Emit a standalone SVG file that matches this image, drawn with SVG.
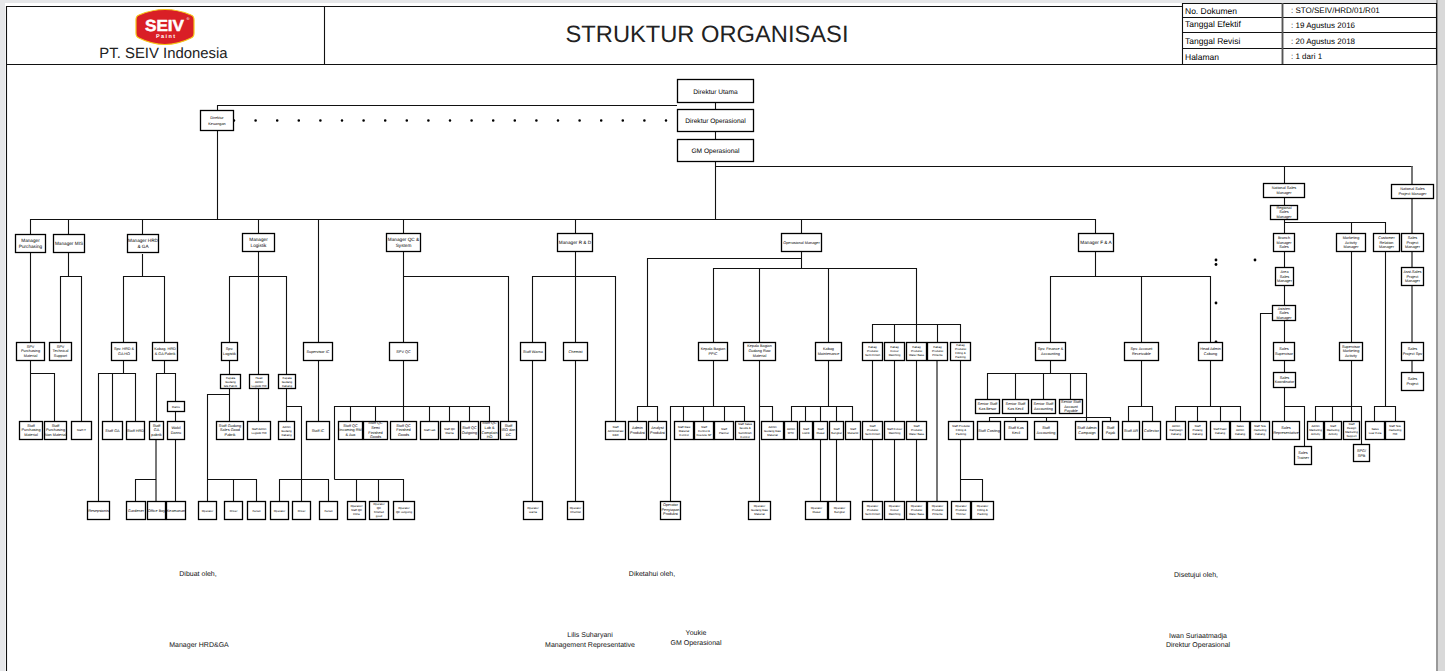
<svg xmlns="http://www.w3.org/2000/svg" width="1445" height="671" viewBox="0 0 1445 671">
<style>
text{font-family:"Liberation Sans",Arial,sans-serif;fill:#000;text-anchor:middle;text-rendering:geometricPrecision}
.n rect{fill:#fff;stroke:#000;stroke-width:1.300}
.f3{font-size:2.9px}.f4{font-size:3.8px}.f5{font-size:4.7px}.f7{font-size:6.6px}
.l{font-size:8px;text-anchor:start}
.k{font-size:8.500px;text-anchor:start}
.c path{fill:none;stroke:#111;stroke-width:1.100}
.c path.g{stroke:#555;stroke-width:1.600}
.h{fill:none;stroke:#111;stroke-width:1.100}
.s{font-size:7px;fill:#111}
</style>
<rect width="1445" height="671" fill="#e6e7e9"/>
<rect x="5" y="3" width="1433" height="668" fill="#fff"/>
<rect x="1436" y="0" width="2" height="671" fill="#999"/>
<rect x="1438" y="0" width="7" height="671" fill="#d9d9d9"/>
<g id="header">
<path class="h" d="M6.5 671V6.5H1182M1182 3.500H1436.500V64.500H6.500M324.500 6V64M1182.500 3V64M1282.500 3V64M1182 17.500H1436M1182 32.500H1436M1182 48.500H1436"/>
<path d="M1282.500 3V64" fill="none" stroke="#555" stroke-width="1.800"/>
<g id="logo">
<path d="M139 15Q165 4 191 15Q194 16 194 20V33Q194 37 191 38Q165 51 139 38Q136 37 136 33V20Q136 16 139 15Z" fill="#d91f26" stroke="#f5c518" stroke-width="1.200"/>
<text x="164.500" y="30.500" font-size="16" font-weight="700" fill="#fff" stroke="#fff" stroke-width=".5" textLength="39" lengthAdjust="spacingAndGlyphs" style="fill:#fff">SEIV</text>
<text x="165.500" y="38" font-size="5.500" font-weight="700" textLength="19" style="fill:#fff">Paint</text>
<text x="188" y="20" font-size="4" style="fill:#fff">®</text>
</g>
<text x="163.500" y="58" font-size="14.900" style="fill:#222">PT. SEIV Indonesia</text>
<text x="707" y="41.500" font-size="23.700" style="fill:#222">STRUKTUR ORGANISASI</text>
<text class="k" x="1185" y="13.500">No. Dokumen</text>
<text class="k" x="1185" y="27">Tanggal Efektif</text>
<text class="k" x="1185" y="44">Tanggal Revisi</text>
<text class="k" x="1185" y="59.500">Halaman</text>
<text class="l" x="1291" y="13">: STO/SEIV/HRD/01/R01</text>
<text class="l" x="1291" y="28">: 19 Agustus 2016</text>
<text class="l" x="1291" y="44">: 20 Agustus 2018</text>
<text class="l" x="1291" y="59">: 1 dari 1</text>
</g>
<g id="connectors" class="c">
<path d="M715.500 102V219.500"/>
<path d="M217.500 219.500V105.500H677"/>
<path d="M234 120.500H672" style="stroke:#000;stroke-width:2.600;stroke-linecap:round;stroke-dasharray:0 21.600"/>
<path d="M30.500 234V219.500H1095.500V234M68.500 219.500V234M142.500 219.500V234M258.500 219.500V234M318.500 219.500V342M403.500 219.500V234M575.500 219.500V234M801.500 219.500V233"/>
<path d="M715.500 166.500H1412.500M1284.500 166.500V183"/>
<path class="g" d="M1412 166V372"/>
<path d="M30.500 252V421M30.500 373.500H54.500V421"/>
<path d="M68.500 252V276.500M60.500 342V276.500H81.500V421"/>
<path d="M142.500 254V276.500M123.500 342V276.500H164.500V342"/>
<path d="M123.500 360V373.500M98.500 501V373.500H135.500V421M112.500 373.500V421"/>
<path d="M164.500 360V373.500M156.500 421V373.500H175.500V401M175.500 411V421M175.500 439V501"/>
<path class="g" d="M156 439V501"/>
<path d="M135.500 501V479.500H156"/>
<path d="M229.500 342V276.500H286.500V374M258.500 252V421"/>
<path d="M229.500 360V374M229.500 388V421M229.500 394.500H207.500V501M207.500 479.500H256.500V501M233.500 479.500V501"/>
<path d="M286.500 388V421M286.500 406.500H301.500V501M279.500 501V479.500H328.500V501"/>
<path d="M318.500 360V421"/>
<path d="M403.500 252V342M403.500 276.500H508.500V421"/>
<path d="M403.500 360V421M334.500 479.500V406.500H489.500V421M350.500 406.500V421M375.500 406.500V421M429.500 406.500V421M449.500 406.500V421M469.500 406.500V421"/>
<path d="M334.500 479.500H403.500V501M356.500 479.500V501M378.500 479.500V501"/>
<path d="M575.500 252V342M532.500 342V276.500H615.500V421M532.500 360V501M575.500 360V501"/>
<path d="M801.500 251V268.500M647.500 406V258.500H801.500M637.500 421V406.500H657.500V421"/>
<path d="M713.500 342V268.500H916.500V324M759.500 268.500V342M828.500 268.500V342"/>
<path d="M713.500 360V406.500M670.500 501V406.500H744.500V421M683.500 406.500V421M703.500 406.500V421M724.500 406.500V421"/>
<path d="M759.500 360V501M759.500 406.500H772.500V421"/>
<path d="M828.500 360V406.500M791.500 421V406.500H852.500V421M805.500 406.500V421M820.500 406.500V501M836.500 406.500V501"/>
<path d="M872.500 342V324.500H960.500V342M894.500 324.500V342M916.500 324.500V342M937.500 324.500V342"/>
<path d="M872.500 360V501M894.500 360V501M916.500 360V501M960.500 360V501M960.500 479.500H982.500V501"/>
<path class="g" d="M937 360V501"/>
<path d="M1095.500 252V276.500M1050.500 342V276.500H1210.500V342M1141.500 276.500V342"/>
<path d="M1050.500 360V373.500M987.500 399V373.500H1086.500V421M1015.500 373.500V399M1043.500 373.500V399M1070.500 373.500V399"/>
<path d="M989.500 421V417.500H1110.500V421M1015.500 417.500V421M1046.500 417.500V421"/>
<path d="M1141.500 360V406.500M1128.500 421V406.500H1152.500V421"/>
<path d="M1210.500 360V406.500M1175.500 421V406.500H1240.500V421M1197.500 406.500V421M1220.500 406.500V421"/>
<path d="M1284.500 197V233M1284.500 222.500H1385.500V233M1351.500 222.500V233"/>
<path d="M1284.500 251V342M1284.500 360V372M1284.500 387V421M1284.500 406.500H1304.500V446"/>
<path d="M1272 313.500H1260.500V421"/>
<path d="M1351.500 251V342M1351.500 360V406.500M1315.500 421V406.500H1361.500V444M1332.500 406.500V421M1351.500 406.500V421"/>
<path d="M1385.500 251V406.500M1374.500 421V406.500H1395.500V421"/>
<g id="dots"><circle cx="1216" cy="260" r="1.400"/><circle cx="1216" cy="264.500" r="1.400"/><circle cx="1255" cy="260" r="1.400"/><circle cx="1216" cy="303" r="1.400"/><circle cx="1216" cy="342" r="1.400"/></g>
</g>
<g class="n" id="n-direktur-utama"><rect x="677.500" y="79.500" width="76" height="23"/><text class="f7" x="715.500" y="93.500">Direktur Utama</text></g>
<g class="n" id="n-direktur-operasional"><rect x="677.500" y="109.500" width="76" height="22"/><text class="f7" x="715.500" y="122.500">Direktur Operasional</text></g>
<g class="n" id="n-gm-operasional"><rect x="677.500" y="139.500" width="76" height="22"/><text class="f7" x="715.500" y="152.500">GM Operasional</text></g>
<g class="n" id="n-direktur-keuangan"><rect x="200.500" y="110.500" width="33" height="20"/><text class="f4" x="217" y="119"><tspan x="217">Direktur</tspan><tspan x="217" dy="6">Keuangan</tspan></text></g>
<g class="n" id="n-mgr-purchasing"><rect x="15.500" y="234.500" width="30" height="18"/><text class="f5" x="30.500" y="241.600"><tspan x="30.500">Manager</tspan><tspan x="30.500" dy="6">Purchasing</tspan></text></g>
<g class="n" id="n-mgr-mis"><rect x="53.500" y="234.500" width="31" height="18"/><text class="f5" x="69" y="245">Manager MIS</text></g>
<g class="n" id="n-mgr-hrd"><rect x="127.500" y="234.500" width="31" height="18"/><text class="f5" x="143" y="241.600"><tspan x="143">Manager HRD</tspan><tspan x="143" dy="6">&amp; GA</tspan></text></g>
<g class="n" id="n-mgr-logistik"><rect x="242.500" y="233.500" width="32" height="18"/><text class="f5" x="258.500" y="240.600"><tspan x="258.500">Manager</tspan><tspan x="258.500" dy="6">Logistik</tspan></text></g>
<g class="n" id="n-mgr-qc"><rect x="386.500" y="233.500" width="34" height="18"/><text class="f5" x="403.500" y="240.600"><tspan x="403.500">Manager QC &amp;</tspan><tspan x="403.500" dy="6">System</tspan></text></g>
<g class="n" id="n-mgr-rd"><rect x="557.500" y="233.500" width="35" height="18"/><text class="f5" x="575" y="244">Manager R &amp; D</text></g>
<g class="n" id="n-op-mgr"><rect x="781.500" y="233.500" width="40" height="18"/><text class="f4" x="801.500" y="244">Operasional Manager</text></g>
<g class="n" id="n-mgr-fa"><rect x="1078.500" y="233.500" width="35" height="18"/><text class="f5" x="1096" y="244">Manager F &amp; A</text></g>
<g class="n" id="n-nat-sales"><rect x="1263.500" y="183.500" width="41" height="14"/><text class="f4" x="1284" y="189"><tspan x="1284">National Sales</tspan><tspan x="1284" dy="5">Manager</tspan></text></g>
<g class="n" id="n-nat-project"><rect x="1391.500" y="184.500" width="42" height="14"/><text class="f4" x="1412.500" y="190"><tspan x="1412.500">National Sales</tspan><tspan x="1412.500" dy="5">Project Manager</tspan></text></g>
<g class="n" id="n-regional"><rect x="1270.500" y="205.500" width="27" height="14"/><text class="f4" x="1284" y="209"><tspan x="1284">Regional</tspan><tspan x="1284" dy="4.400">Sales</tspan><tspan x="1284" dy="4.400">Manager</tspan></text></g>
<g class="n" id="n-branch"><rect x="1273.500" y="233.500" width="21" height="18"/><text class="f4" x="1284" y="238.700"><tspan x="1284">Branch</tspan><tspan x="1284" dy="4.800">Manager</tspan><tspan x="1284" dy="4.800">Sales</tspan></text></g>
<g class="n" id="n-mkt-mgr"><rect x="1336.500" y="233.500" width="29" height="18"/><text class="f4" x="1351" y="238.700"><tspan x="1351">Marketing</tspan><tspan x="1351" dy="4.800">Activity</tspan><tspan x="1351" dy="4.800">Manager</tspan></text></g>
<g class="n" id="n-cust-mgr"><rect x="1373.500" y="233.500" width="26" height="18"/><text class="f4" x="1386.500" y="238.700"><tspan x="1386.500">Customer</tspan><tspan x="1386.500" dy="4.800">Relation</tspan><tspan x="1386.500" dy="4.800">Manager</tspan></text></g>
<g class="n" id="n-sales-project-mgr"><rect x="1401.500" y="233.500" width="22" height="18"/><text class="f4" x="1412.500" y="238.700"><tspan x="1412.500">Sales</tspan><tspan x="1412.500" dy="4.800">Project</tspan><tspan x="1412.500" dy="4.800">Manager</tspan></text></g>
<g class="n" id="n-area"><rect x="1275.500" y="267.500" width="18" height="18"/><text class="f4" x="1284.500" y="272.700"><tspan x="1284.500">Area</tspan><tspan x="1284.500" dy="4.800">Sales</tspan><tspan x="1284.500" dy="4.800">Manager</tspan></text></g>
<g class="n" id="n-asd-project"><rect x="1401.500" y="267.500" width="22" height="18"/><text class="f4" x="1412.500" y="272.700"><tspan x="1412.500">Asst.Sales</tspan><tspan x="1412.500" dy="4.800">Project</tspan><tspan x="1412.500" dy="4.800">Manager</tspan></text></g>
<g class="n" id="n-asisten"><rect x="1272.500" y="305.500" width="23" height="15"/><text class="f4" x="1284" y="309.500"><tspan x="1284">Asisten</tspan><tspan x="1284" dy="4.800">Sales</tspan><tspan x="1284" dy="4.800">Manager</tspan></text></g>
<g class="n" id="n-spv-purch"><rect x="16.500" y="342.500" width="28" height="18"/><text class="f4" x="30.500" y="347.700"><tspan x="30.500">SPV</tspan><tspan x="30.500" dy="4.600">Purchasing</tspan><tspan x="30.500" dy="4.600">Material</tspan></text></g>
<g class="n" id="n-spv-tech"><rect x="49.500" y="342.500" width="22" height="18"/><text class="f4" x="60.500" y="347.700"><tspan x="60.500">SPV</tspan><tspan x="60.500" dy="4.600">Technical</tspan><tspan x="60.500" dy="4.600">Support</tspan></text></g>
<g class="n" id="n-spv-hrd"><rect x="111.500" y="342.500" width="25" height="18"/><text class="f4" x="124" y="350"><tspan x="124">Spv. HRD &amp;</tspan><tspan x="124" dy="4.600">GA HO</tspan></text></g>
<g class="n" id="n-kabag-hrd"><rect x="152.500" y="342.500" width="25" height="18"/><text class="f4" x="165" y="350"><tspan x="165">Kabag. HRD</tspan><tspan x="165" dy="4.600">&amp; GA Pabrik</tspan></text></g>
<g class="n" id="n-spv-log"><rect x="221.500" y="342.500" width="16" height="18"/><text class="f4" x="229.500" y="350"><tspan x="229.500">Spv.</tspan><tspan x="229.500" dy="4.600">Logistik</tspan></text></g>
<g class="n" id="n-kg-pabrik"><rect x="220.500" y="374.500" width="20" height="14"/><text class="f3" x="230.500" y="378.700"><tspan x="230.500">Kepala</tspan><tspan x="230.500" dy="4">Gudang</tspan><tspan x="230.500" dy="4">GG Pabrik</tspan></text></g>
<g class="n" id="n-head-admin-log"><rect x="249.500" y="374.500" width="19" height="14"/><text class="f3" x="259" y="378.700"><tspan x="259">Head</tspan><tspan x="259" dy="4">Admin</tspan><tspan x="259" dy="4">Logistik HO</tspan></text></g>
<g class="n" id="n-kg-cabang"><rect x="278.500" y="374.500" width="17" height="14"/><text class="f3" x="287" y="378.700"><tspan x="287">Kepala</tspan><tspan x="287" dy="4">Gudang</tspan><tspan x="287" dy="4">Cabang</tspan></text></g>
<g class="n" id="n-danru"><rect x="167.500" y="401.500" width="17" height="10"/><text class="f3" x="176" y="407.500">Danru</text></g>
<g class="n" id="n-sup-ic"><rect x="303.500" y="342.500" width="29" height="18"/><text class="f4" x="318" y="352.800">Supervisor IC</text></g>
<g class="n" id="n-spv-qc"><rect x="389.500" y="342.500" width="28" height="18"/><text class="f4" x="403.500" y="352.800">SPV QC</text></g>
<g class="n" id="n-staff-warna"><rect x="520.500" y="342.500" width="25" height="18"/><text class="f4" x="533" y="352.800">Staff Warna</text></g>
<g class="n" id="n-chemist"><rect x="563.500" y="342.500" width="24" height="18"/><text class="f4" x="575.500" y="352.800">Chemist</text></g>
<g class="n" id="n-ppic"><rect x="698.500" y="342.500" width="29" height="18"/><text class="f4" x="713" y="350"><tspan x="713">Kepala Bagian</tspan><tspan x="713" dy="4.600">PPIC</tspan></text></g>
<g class="n" id="n-kb-raw"><rect x="743.500" y="342.500" width="32" height="18"/><text class="f4" x="759.500" y="347"><tspan x="759.500">Kepala Bagian</tspan><tspan x="759.500" dy="5">Gudang Raw</tspan><tspan x="759.500" dy="5">Material</tspan></text></g>
<g class="n" id="n-kabag-maint"><rect x="815.500" y="342.500" width="26" height="18"/><text class="f4" x="828.500" y="350"><tspan x="828.500">Kabag</tspan><tspan x="828.500" dy="4.600">Maintenance</tspan></text></g>
<g class="n" id="n-kabag-semi"><rect x="862.500" y="342.500" width="20" height="18"/><text class="f3" x="872.500" y="348"><tspan x="872.500">Kabag</tspan><tspan x="872.500" dy="4">Produksi</tspan><tspan x="872.500" dy="4">Semi Finish</tspan></text></g>
<g class="n" id="n-kabag-colour"><rect x="884.500" y="342.500" width="20" height="18"/><text class="f3" x="894.500" y="348"><tspan x="894.500">Kabag</tspan><tspan x="894.500" dy="4">Colour</tspan><tspan x="894.500" dy="4">Matching</tspan></text></g>
<g class="n" id="n-kabag-water"><rect x="906.500" y="342.500" width="20" height="18"/><text class="f3" x="916.500" y="348"><tspan x="916.500">Kabag</tspan><tspan x="916.500" dy="4">Produksi</tspan><tspan x="916.500" dy="4">Water Base</tspan></text></g>
<g class="n" id="n-kabag-pin"><rect x="927.500" y="342.500" width="20" height="18"/><text class="f3" x="937.500" y="348"><tspan x="937.500">Kabag</tspan><tspan x="937.500" dy="4">Produksi</tspan><tspan x="937.500" dy="4">Pinlente</tspan></text></g>
<g class="n" id="n-kabag-fill"><rect x="950.500" y="342.500" width="20" height="18"/><text class="f3" x="960.500" y="346"><tspan x="960.500">Kabag</tspan><tspan x="960.500" dy="4">Produksi</tspan><tspan x="960.500" dy="4">Filling &amp;</tspan><tspan x="960.500" dy="4">Packing</tspan></text></g>
<g class="n" id="n-spv-fin"><rect x="1035.500" y="342.500" width="30" height="18"/><text class="f4" x="1050.500" y="350"><tspan x="1050.500">Spv. Finance &amp;</tspan><tspan x="1050.500" dy="4.600">Accounting</tspan></text></g>
<g class="n" id="n-spv-ar"><rect x="1124.500" y="342.500" width="34" height="18"/><text class="f4" x="1141.500" y="350"><tspan x="1141.500">Spv. Account</tspan><tspan x="1141.500" dy="4.600">Receivable</tspan></text></g>
<g class="n" id="n-head-admin"><rect x="1198.500" y="342.500" width="24" height="18"/><text class="f4" x="1210.500" y="350"><tspan x="1210.500">Head Admin</tspan><tspan x="1210.500" dy="4.600">Cabang</tspan></text></g>
<g class="n" id="n-sales-sup"><rect x="1273.500" y="342.500" width="21" height="18"/><text class="f4" x="1284" y="350"><tspan x="1284">Sales</tspan><tspan x="1284" dy="4.600">Supervisor</tspan></text></g>
<g class="n" id="n-sup-mkt"><rect x="1339.500" y="342.500" width="23" height="18"/><text class="f4" x="1351" y="347.700"><tspan x="1351">Supervisor</tspan><tspan x="1351" dy="4.600">Marketing</tspan><tspan x="1351" dy="4.600">Activity</tspan></text></g>
<g class="n" id="n-sales-proj-spv"><rect x="1401.500" y="342.500" width="22" height="18"/><text class="f4" x="1412.500" y="350"><tspan x="1412.500">Sales</tspan><tspan x="1412.500" dy="4.600">Project Spv</tspan></text></g>
<g class="n" id="n-sales-koord"><rect x="1273.500" y="372.500" width="22" height="15"/><text class="f4" x="1284.500" y="378.700"><tspan x="1284.500">Sales</tspan><tspan x="1284.500" dy="4.600">Koordinator</tspan></text></g>
<g class="n" id="n-sales-project"><rect x="1401.500" y="372.500" width="22" height="18"/><text class="f4" x="1412.500" y="380"><tspan x="1412.500">Sales</tspan><tspan x="1412.500" dy="4.600">Project</tspan></text></g>
<g class="n" id="n-sr-besar"><rect x="975.500" y="399.500" width="24" height="14"/><text class="f4" x="987.500" y="405"><tspan x="987.500">Senior Staff</tspan><tspan x="987.500" dy="4.600">Kas Besar</tspan></text></g>
<g class="n" id="n-sr-kecil"><rect x="1002.500" y="399.500" width="26" height="14"/><text class="f4" x="1015.500" y="405"><tspan x="1015.500">Senior Staff</tspan><tspan x="1015.500" dy="4.600">Kas Kecil</tspan></text></g>
<g class="n" id="n-sr-acc"><rect x="1031.500" y="399.500" width="24" height="14"/><text class="f4" x="1043.500" y="405"><tspan x="1043.500">Senior Staff</tspan><tspan x="1043.500" dy="4.600">Accounting</tspan></text></g>
<g class="n" id="n-sr-ap"><rect x="1059.500" y="399.500" width="23" height="14"/><text class="f4" x="1071" y="403"><tspan x="1071">Senior Staff</tspan><tspan x="1071" dy="4.600">Account</tspan><tspan x="1071" dy="4.600">Payable</tspan></text></g>
<g class="n" id="n-st-pm"><rect x="19.500" y="421.500" width="23" height="18"/><text class="f4" x="31" y="426.700"><tspan x="31">Staff</tspan><tspan x="31" dy="4.600">Purchasing</tspan><tspan x="31" dy="4.600">Material</tspan></text></g>
<g class="n" id="n-st-pnm"><rect x="44.500" y="421.500" width="22" height="18"/><text class="f4" x="55.500" y="426.700"><tspan x="55.500">Staff</tspan><tspan x="55.500" dy="4.600">Purchasing</tspan><tspan x="55.500" dy="4.600">Non Material</tspan></text></g>
<g class="n" id="n-st-it"><rect x="71.500" y="421.500" width="20" height="18"/><text class="f3" x="81.500" y="431">Staff IT</text></g>
<g class="n" id="n-st-ga"><rect x="102.500" y="421.500" width="20" height="18"/><text class="f4" x="112.500" y="431.800">Staff GA</text></g>
<g class="n" id="n-st-hrd"><rect x="126.500" y="421.500" width="18" height="18"/><text class="f4" x="135.500" y="431.800">Staff HRD</text></g>
<g class="n" id="n-st-gap"><rect x="149.500" y="421.500" width="14" height="18"/><text class="f4" x="156.500" y="426.700"><tspan x="156.500">Staff</tspan><tspan x="156.500" dy="4.600">GA</tspan><tspan x="156.500" dy="4.600">pabrik</tspan></text></g>
<g class="n" id="n-wakil"><rect x="167.500" y="421.500" width="17" height="18"/><text class="f4" x="176" y="429"><tspan x="176">Wakil</tspan><tspan x="176" dy="4.600">Danru</tspan></text></g>
<g class="n" id="n-st-gudang"><rect x="216.500" y="421.500" width="27" height="18"/><text class="f4" x="230" y="426.700"><tspan x="230">Staff Gudang</tspan><tspan x="230" dy="4.600">Sales Good</tspan><tspan x="230" dy="4.600">Pabrik</tspan></text></g>
<g class="n" id="n-st-admin-log"><rect x="247.500" y="421.500" width="23" height="18"/><text class="f3" x="259" y="429.500"><tspan x="259">Staff Admin</tspan><tspan x="259" dy="4">Logistik HO</tspan></text></g>
<g class="n" id="n-adm-cabang"><rect x="278.500" y="421.500" width="16" height="18"/><text class="f3" x="286.500" y="427.500"><tspan x="286.500">Admin</tspan><tspan x="286.500" dy="4">Gudang</tspan><tspan x="286.500" dy="4">Cabang</tspan></text></g>
<g class="n" id="n-st-ic"><rect x="306.500" y="421.500" width="23" height="18"/><text class="f4" x="318" y="431.800">Staff IC</text></g>
<g class="n" id="n-qc-inc"><rect x="338.500" y="421.500" width="24" height="18"/><text class="f4" x="350.500" y="426.700"><tspan x="350.500">Staff QC</tspan><tspan x="350.500" dy="4.600">Incoming RM</tspan><tspan x="350.500" dy="4.600">&amp; Aux</tspan></text></g>
<g class="n" id="n-qc-semi"><rect x="363.500" y="421.500" width="24" height="18"/><text class="f4" x="375.500" y="424.400"><tspan x="375.500">Staff QC</tspan><tspan x="375.500" dy="4.600">Semi</tspan><tspan x="375.500" dy="4.600">Finished</tspan><tspan x="375.500" dy="4.600">Goods</tspan></text></g>
<g class="n" id="n-qc-fin"><rect x="390.500" y="421.500" width="26" height="18"/><text class="f4" x="403.500" y="426.700"><tspan x="403.500">Staff QC</tspan><tspan x="403.500" dy="4.600">Finished</tspan><tspan x="403.500" dy="4.600">Goods</tspan></text></g>
<g class="n" id="n-st-lab"><rect x="420.500" y="421.500" width="18" height="18"/><text class="f3" x="429.500" y="431">Staff Lab</text></g>
<g class="n" id="n-qc-warna"><rect x="440.500" y="421.500" width="18" height="18"/><text class="f3" x="449.500" y="429.500"><tspan x="449.500">Staff QC</tspan><tspan x="449.500" dy="4">Warna</tspan></text></g>
<g class="n" id="n-qc-out"><rect x="460.500" y="421.500" width="18" height="18"/><text class="f4" x="469.500" y="429"><tspan x="469.500">Staff QC</tspan><tspan x="469.500" dy="4.600">Outgoing</tspan></text></g>
<g class="n" id="n-qc-lab"><rect x="480.500" y="421.500" width="18" height="18"/><text class="f4" x="489.500" y="424.400"><tspan x="489.500">Staff QC</tspan><tspan x="489.500" dy="4.600">Lab &amp;</tspan><tspan x="489.500" dy="4.600">Complain</tspan><tspan x="489.500" dy="4.600">HO</tspan></text></g>
<g class="n" id="n-iso"><rect x="500.500" y="421.500" width="16" height="18"/><text class="f4" x="508.500" y="426.700"><tspan x="508.500">Staff</tspan><tspan x="508.500" dy="4.600">ISO dan</tspan><tspan x="508.500" dy="4.600">DC</tspan></text></g>
<g class="n" id="n-st-adm-rd"><rect x="605.500" y="421.500" width="20" height="18"/><text class="f3" x="615.500" y="427.500"><tspan x="615.500">Staff</tspan><tspan x="615.500" dy="4">Administrasi</tspan><tspan x="615.500" dy="4">R&amp;D</tspan></text></g>
<g class="n" id="n-adm-prod"><rect x="628.500" y="421.500" width="18" height="18"/><text class="f4" x="637.500" y="429"><tspan x="637.500">Admin</tspan><tspan x="637.500" dy="4.600">Produksi</tspan></text></g>
<g class="n" id="n-analyst"><rect x="648.500" y="421.500" width="18" height="18"/><text class="f4" x="657.500" y="429"><tspan x="657.500">Analyst</tspan><tspan x="657.500" dy="4.600">Produksi</tspan></text></g>
<g class="n" id="n-st-raw"><rect x="674.500" y="421.500" width="19" height="18"/><text class="f3" x="684" y="427.500"><tspan x="684">Staff Raw</tspan><tspan x="684" dy="4">Material</tspan><tspan x="684" dy="4">Control</tspan></text></g>
<g class="n" id="n-st-control"><rect x="694.500" y="421.500" width="19" height="18"/><text class="f3" x="704" y="427.500"><tspan x="704">Staff</tspan><tspan x="704" dy="4">Control &amp;</tspan><tspan x="704" dy="4">Execute SP</tspan></text></g>
<g class="n" id="n-st-planner"><rect x="714.500" y="421.500" width="19" height="18"/><text class="f3" x="724" y="429.500"><tspan x="724">Staff</tspan><tspan x="724" dy="4">Planner</tspan></text></g>
<g class="n" id="n-st-sales"><rect x="735.500" y="421.500" width="19" height="18"/><text class="f3" x="745" y="425"><tspan x="745">Staff Sales</tspan><tspan x="745" dy="4.300">Goods &amp;</tspan><tspan x="745" dy="4.300">Semifinish</tspan><tspan x="745" dy="4.300">Control</tspan></text></g>
<g class="n" id="n-adm-raw"><rect x="761.500" y="421.500" width="22" height="18"/><text class="f3" x="772.500" y="427.500"><tspan x="772.500">Admin</tspan><tspan x="772.500" dy="4">Gudang Raw</tspan><tspan x="772.500" dy="4">Material</tspan></text></g>
<g class="n" id="n-adm-mtc"><rect x="784.500" y="421.500" width="13" height="18"/><text class="f3" x="791" y="429.500"><tspan x="791">Admin</tspan><tspan x="791" dy="4">MTC</tspan></text></g>
<g class="n" id="n-st-listrik"><rect x="799.500" y="421.500" width="13" height="18"/><text class="f3" x="806" y="429.500"><tspan x="806">Staff</tspan><tspan x="806" dy="4">Listrik</tspan></text></g>
<g class="n" id="n-st-diesel"><rect x="813.500" y="421.500" width="14" height="18"/><text class="f3" x="820.500" y="429.500"><tspan x="820.500">Staff</tspan><tspan x="820.500" dy="4">Diesel</tspan></text></g>
<g class="n" id="n-st-bengkel"><rect x="829.500" y="421.500" width="14" height="18"/><text class="f3" x="836.500" y="429.500"><tspan x="836.500">Staff</tspan><tspan x="836.500" dy="4">Bengkel</tspan></text></g>
<g class="n" id="n-st-mekanik"><rect x="845.500" y="421.500" width="15" height="18"/><text class="f3" x="853" y="429.500"><tspan x="853">Staff</tspan><tspan x="853" dy="4">Mekanik</tspan></text></g>
<g class="n" id="n-st-semi"><rect x="862.500" y="421.500" width="20" height="18"/><text class="f3" x="872.500" y="427"><tspan x="872.500">Staff</tspan><tspan x="872.500" dy="4">Produksi</tspan><tspan x="872.500" dy="4">Semi Finish</tspan></text></g>
<g class="n" id="n-st-colour"><rect x="884.500" y="421.500" width="20" height="18"/><text class="f3" x="894.500" y="429.500"><tspan x="894.500">Staff Colour</tspan><tspan x="894.500" dy="4">Matching</tspan></text></g>
<g class="n" id="n-st-water"><rect x="906.500" y="421.500" width="20" height="18"/><text class="f3" x="916.500" y="427"><tspan x="916.500">Staff</tspan><tspan x="916.500" dy="4">Produksi</tspan><tspan x="916.500" dy="4">Water Base</tspan></text></g>
<g class="n" id="n-st-fill"><rect x="948.500" y="421.500" width="25" height="18"/><text class="f3" x="961" y="427"><tspan x="961">Staff Produksi</tspan><tspan x="961" dy="4">Filling &amp;</tspan><tspan x="961" dy="4">Packing</tspan></text></g>
<g class="n" id="n-st-costing"><rect x="977.500" y="421.500" width="23" height="18"/><text class="f4" x="989" y="431.800">Staff Costing</text></g>
<g class="n" id="n-st-kas"><rect x="1004.500" y="421.500" width="23" height="18"/><text class="f4" x="1016" y="429"><tspan x="1016">Staff Kas</tspan><tspan x="1016" dy="5">Kecil</tspan></text></g>
<g class="n" id="n-st-acc"><rect x="1034.500" y="421.500" width="23" height="18"/><text class="f4" x="1046" y="429"><tspan x="1046">Staff</tspan><tspan x="1046" dy="5">Accounting</tspan></text></g>
<g class="n" id="n-st-camp"><rect x="1075.500" y="421.500" width="23" height="18"/><text class="f4" x="1087" y="429"><tspan x="1087">Staff Admin</tspan><tspan x="1087" dy="5">Campaign</tspan></text></g>
<g class="n" id="n-st-pajak"><rect x="1102.500" y="421.500" width="16" height="18"/><text class="f4" x="1110.500" y="429"><tspan x="1110.500">Staff</tspan><tspan x="1110.500" dy="5">Pajak</tspan></text></g>
<g class="n" id="n-st-ar"><rect x="1122.500" y="421.500" width="17" height="18"/><text class="f4" x="1131" y="431.800">Staff AR</text></g>
<g class="n" id="n-collector"><rect x="1142.500" y="421.500" width="18" height="18"/><text class="f4" x="1151.500" y="431.800">Collector</text></g>
<g class="n" id="n-adm-camp"><rect x="1166.500" y="421.500" width="19" height="18"/><text class="f3" x="1176" y="427"><tspan x="1176">Admin</tspan><tspan x="1176" dy="4">Campaign</tspan><tspan x="1176" dy="4">Cabang</tspan></text></g>
<g class="n" id="n-st-piutang"><rect x="1188.500" y="421.500" width="18" height="18"/><text class="f3" x="1197.500" y="427"><tspan x="1197.500">Staff</tspan><tspan x="1197.500" dy="4">Piutang</tspan><tspan x="1197.500" dy="4">Cabang</tspan></text></g>
<g class="n" id="n-st-kasir"><rect x="1210.500" y="421.500" width="19" height="18"/><text class="f3" x="1220" y="429.500"><tspan x="1220">Staff Kasir</tspan><tspan x="1220" dy="4">Cabang</tspan></text></g>
<g class="n" id="n-sales-adm"><rect x="1230.500" y="421.500" width="19" height="18"/><text class="f3" x="1240" y="427"><tspan x="1240">Sales</tspan><tspan x="1240" dy="4">Admin</tspan><tspan x="1240" dy="4">Cabang</tspan></text></g>
<g class="n" id="n-tele-cab"><rect x="1250.500" y="421.500" width="19" height="18"/><text class="f3" x="1260" y="427"><tspan x="1260">Staff Tele</tspan><tspan x="1260" dy="4">marketing</tspan><tspan x="1260" dy="4">Cabang</tspan></text></g>
<g class="n" id="n-sales-rep"><rect x="1272.500" y="421.500" width="27" height="18"/><text class="f4" x="1286" y="429"><tspan x="1286">Sales</tspan><tspan x="1286" dy="4.600">Representative</tspan></text></g>
<g class="n" id="n-adm-mkt"><rect x="1307.500" y="421.500" width="16" height="18"/><text class="f3" x="1315.500" y="427"><tspan x="1315.500">Admin</tspan><tspan x="1315.500" dy="4">Marketing</tspan><tspan x="1315.500" dy="4">Activity</tspan></text></g>
<g class="n" id="n-st-mkt"><rect x="1324.500" y="421.500" width="17" height="18"/><text class="f3" x="1333" y="427"><tspan x="1333">Staff</tspan><tspan x="1333" dy="4">Marketing</tspan><tspan x="1333" dy="4">Activity</tspan></text></g>
<g class="n" id="n-st-design"><rect x="1343.500" y="421.500" width="16" height="18"/><text class="f3" x="1351.500" y="425"><tspan x="1351.500">Staff</tspan><tspan x="1351.500" dy="4">Design</tspan><tspan x="1351.500" dy="4">Marketing</tspan><tspan x="1351.500" dy="4">Support</tspan></text></g>
<g class="n" id="n-luar"><rect x="1365.500" y="421.500" width="19" height="18"/><text class="f3" x="1375" y="429.500"><tspan x="1375">Sales</tspan><tspan x="1375" dy="4">Luar Kota</tspan></text></g>
<g class="n" id="n-tele-ho"><rect x="1385.500" y="421.500" width="19" height="18"/><text class="f3" x="1395" y="427"><tspan x="1395">Staff Tele</tspan><tspan x="1395" dy="4">marketing</tspan><tspan x="1395" dy="4">HO</tspan></text></g>
<g class="n" id="n-spg"><rect x="1353.500" y="444.500" width="16" height="17"/><text class="f4" x="1361.500" y="452"><tspan x="1361.500">SPG/</tspan><tspan x="1361.500" dy="4.600">SPB</tspan></text></g>
<g class="n" id="n-trainer"><rect x="1294.500" y="446.500" width="17" height="18"/><text class="f4" x="1303" y="454"><tspan x="1303">Sales</tspan><tspan x="1303" dy="4.600">Trainer</tspan></text></g>
<g class="n" id="n-resep"><rect x="87.500" y="501.500" width="22" height="18"/><text class="f4" x="98.500" y="511.800">Resepsionis</text></g>
<g class="n" id="n-gardener"><rect x="126.500" y="501.500" width="19" height="18"/><text class="f4" x="136" y="511.800">Gardener</text></g>
<g class="n" id="n-ob"><rect x="147.500" y="501.500" width="18" height="18"/><text class="f4" x="156.500" y="511.800">Office Boy</text></g>
<g class="n" id="n-keamanan"><rect x="166.500" y="501.500" width="19" height="18"/><text class="f4" x="176" y="511.800">Keamanan</text></g>
<g class="n" id="n-op1"><rect x="198.500" y="501.500" width="18" height="18"/><text class="f3" x="207.500" y="511.500">Operator</text></g>
<g class="n" id="n-driver1"><rect x="224.500" y="501.500" width="18" height="18"/><text class="f3" x="233.500" y="511.500">Driver</text></g>
<g class="n" id="n-kenek1"><rect x="247.500" y="501.500" width="18" height="18"/><text class="f3" x="256.500" y="511.500">Kenek</text></g>
<g class="n" id="n-op2"><rect x="270.500" y="501.500" width="18" height="18"/><text class="f3" x="279.500" y="511.500">Operator</text></g>
<g class="n" id="n-driver2"><rect x="292.500" y="501.500" width="18" height="18"/><text class="f3" x="301.500" y="511.500">Driver</text></g>
<g class="n" id="n-kenek2"><rect x="319.500" y="501.500" width="18" height="18"/><text class="f3" x="328.500" y="511.500">Kenek</text></g>
<g class="n" id="n-op-inline"><rect x="347.500" y="501.500" width="18" height="18"/><text class="f3" x="356.500" y="506.500"><tspan x="356.500">Operator/</tspan><tspan x="356.500" dy="4.300">Staff QC</tspan><tspan x="356.500" dy="4.300">Inline</tspan></text></g>
<g class="n" id="n-op-fg"><rect x="369.500" y="501.500" width="19" height="18"/><text class="f3" x="379" y="504.800"><tspan x="379">Operator</tspan><tspan x="379" dy="4">QC</tspan><tspan x="379" dy="4">finished</tspan><tspan x="379" dy="4">good</tspan></text></g>
<g class="n" id="n-op-out"><rect x="393.500" y="501.500" width="21" height="18"/><text class="f3" x="404" y="509"><tspan x="404">Operator</tspan><tspan x="404" dy="4">QC outgoing</tspan></text></g>
<g class="n" id="n-op-warna"><rect x="523.500" y="501.500" width="19" height="18"/><text class="f3" x="533" y="509"><tspan x="533">Operator</tspan><tspan x="533" dy="4">warna</tspan></text></g>
<g class="n" id="n-op-chem"><rect x="567.500" y="501.500" width="16" height="18"/><text class="f3" x="575.500" y="509"><tspan x="575.500">Operator</tspan><tspan x="575.500" dy="4">Chemist</tspan></text></g>
<g class="n" id="n-op-siap"><rect x="660.500" y="501.500" width="20" height="18"/><text class="f4" x="670.500" y="506"><tspan x="670.500">Operator</tspan><tspan x="670.500" dy="4.600">Penyiapan</tspan><tspan x="670.500" dy="4.600">Produksi</tspan></text></g>
<g class="n" id="n-op-raw"><rect x="748.500" y="501.500" width="22" height="18"/><text class="f3" x="759.500" y="507"><tspan x="759.500">Operator</tspan><tspan x="759.500" dy="4">Gudang Raw</tspan><tspan x="759.500" dy="4">Material</tspan></text></g>
<g class="n" id="n-op-diesel"><rect x="805.500" y="501.500" width="22" height="18"/><text class="f3" x="816.500" y="509"><tspan x="816.500">Operator</tspan><tspan x="816.500" dy="4">Diesel</tspan></text></g>
<g class="n" id="n-op-bengkel"><rect x="828.500" y="501.500" width="22" height="18"/><text class="f3" x="839.500" y="509"><tspan x="839.500">Operator</tspan><tspan x="839.500" dy="4">Bengkel</tspan></text></g>
<g class="n" id="n-op-semi"><rect x="862.500" y="501.500" width="20" height="18"/><text class="f3" x="872.500" y="507"><tspan x="872.500">Operator</tspan><tspan x="872.500" dy="4">Produksi</tspan><tspan x="872.500" dy="4">Semi Finish</tspan></text></g>
<g class="n" id="n-op-colour"><rect x="884.500" y="501.500" width="20" height="18"/><text class="f3" x="894.500" y="507"><tspan x="894.500">Operator</tspan><tspan x="894.500" dy="4">Colour</tspan><tspan x="894.500" dy="4">Matching</tspan></text></g>
<g class="n" id="n-op-water"><rect x="906.500" y="501.500" width="20" height="18"/><text class="f3" x="916.500" y="507"><tspan x="916.500">Operator</tspan><tspan x="916.500" dy="4">Produksi</tspan><tspan x="916.500" dy="4">Water Base</tspan></text></g>
<g class="n" id="n-op-pin"><rect x="927.500" y="501.500" width="20" height="18"/><text class="f3" x="937.500" y="507"><tspan x="937.500">Operator</tspan><tspan x="937.500" dy="4">Produksi</tspan><tspan x="937.500" dy="4">Pinlente</tspan></text></g>
<g class="n" id="n-op-thin"><rect x="951.500" y="501.500" width="19" height="18"/><text class="f3" x="961" y="507"><tspan x="961">Operator</tspan><tspan x="961" dy="4">Produksi</tspan><tspan x="961" dy="4">Thinner</tspan></text></g>
<g class="n" id="n-op-fill"><rect x="971.500" y="501.500" width="22" height="18"/><text class="f3" x="982.500" y="507"><tspan x="982.500">Operator</tspan><tspan x="982.500" dy="4">Filling &amp;</tspan><tspan x="982.500" dy="4">Packing</tspan></text></g>
<g id="signatures">
<text class="s" x="198" y="576">Dibuat oleh,</text>
<text class="s" x="199" y="647">Manager HRD&amp;GA</text>
<text class="s" x="652" y="576">Diketahui oleh,</text>
<text class="s" x="590" y="637">Lilis Suharyani</text>
<text class="s" x="590" y="647">Management Representative</text>
<text class="s" x="696" y="635">Youkie</text>
<text class="s" x="696" y="645">GM Operasional</text>
<text class="s" x="1196" y="577">Disetujui oleh,</text>
<text class="s" x="1198" y="638">Iwan Suriaatmadja</text>
<text class="s" x="1198" y="647">Direktur Operasional</text>
</g>
</svg>
